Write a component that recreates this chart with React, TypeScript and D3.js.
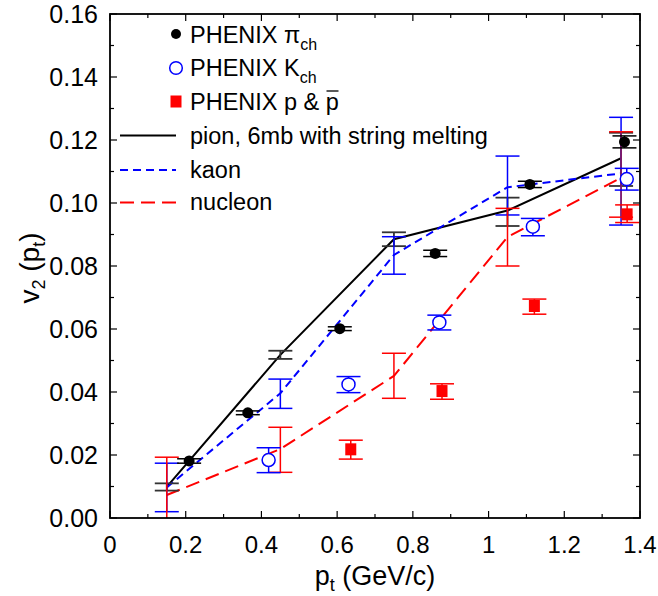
import React from "react";
import * as d3 from "d3";

// ---- data ----
const modelPt = [0.15, 0.45, 0.75, 1.05, 1.35];
const pionModel = [0.0099, 0.0518, 0.0885, 0.0976, 0.1142];
const pionModelLo = [0.0087, 0.0505, 0.0863, 0.0927, 0.1054];
const pionModelHi = [0.011, 0.0531, 0.0907, 0.1017, 0.1223];
const kaonModel = [0.0097, 0.0396, 0.0835, 0.105, 0.1094];
const kaonModelLo = [0.002, 0.0348, 0.0774, 0.0962, 0.093];
const kaonModelHi = [0.0174, 0.0441, 0.0893, 0.1149, 0.1272];
const nucModel = [0.0073, 0.0219, 0.0451, 0.0892, 0.108];
const nucModelLo = [-0.005, 0.0145, 0.038, 0.08, 0.0955];
const nucModelHi = [0.0193, 0.0288, 0.0523, 0.0983, 0.1226];

const pionPt = [0.209, 0.364, 0.607, 0.859, 1.109, 1.359];
const pionV2 = [0.0181, 0.0334, 0.0601, 0.084, 0.1059, 0.1194];
const pionErr = [0.0007, 0.0006, 0.0006, 0.001, 0.001, 0.0019];

const kaonPt = [0.419, 0.63, 0.87, 1.117, 1.365];
const kaonV2 = [0.0184, 0.0424, 0.0621, 0.0925, 0.1076];
const kaonLo = [0.0144, 0.0398, 0.0597, 0.0896, 0.1041];
const kaonHi = [0.0223, 0.0449, 0.0644, 0.0951, 0.111];

const protPt = [0.636, 0.877, 1.121, 1.366];
const protV2 = [0.0218, 0.0403, 0.0673, 0.0964];
const protLo = [0.0187, 0.0377, 0.0647, 0.0938];
const protHi = [0.0247, 0.0426, 0.0695, 0.0994];

const xTickLabels = ["0", "0.2", "0.4", "0.6", "0.8", "1", "1.2", "1.4"];
const yTickLabels = ["0.00", "0.02", "0.04", "0.06", "0.08", "0.10", "0.12", "0.14", "0.16"];

const W = 658, H = 596;
const L = 110, R = 640, T = 14, B = 518;
const FONT = "'Liberation Sans', Arial, Helvetica, sans-serif";
const BLUE = "#0000ff";
const RED = "#ff0000";
const OVERLAP = "#9c1f50";

export default function App() {
  const x = d3.scaleLinear().domain([0, 1.4]).range([L, R]);
  const y = d3.scaleLinear().domain([0, 0.16]).range([B, T]);
  const line = d3
    .line<[number, number]>()
    .x((d) => x(d[0]))
    .y((d) => y(d[1]));
  const cap = 12;

  const xMinor = d3.range(0, 1.4001, 0.1);
  const yMinor = d3.range(0, 0.16001, 0.01);

  const errBar = (
    px: number,
    lo: number,
    hi: number,
    color: string,
    key: string,
    sw = 1.5,
    vColor?: string
  ) => (
    <g key={key} stroke={color} strokeWidth={sw} fill="none">
      <line x1={x(px)} x2={x(px)} y1={y(lo)} y2={y(hi)} stroke={vColor || color} />
      <line x1={x(px) - cap} x2={x(px) + cap} y1={y(lo)} y2={y(lo)} />
      <line x1={x(px) - cap} x2={x(px) + cap} y1={y(hi)} y2={y(hi)} />
    </g>
  );

  const legendRows = [
    { y: 34, kind: "dot" },
    { y: 68, kind: "circle" },
    { y: 101.5, kind: "square" },
    { y: 135.5, kind: "solid" },
    { y: 170, kind: "kaon" },
    { y: 202.5, kind: "nuc" },
  ];

  return (
    <svg width={W} height={H} style={{ position: "absolute", left: 0, top: 0, background: "#fff" }} fontFamily={FONT}>
      <defs>
        <clipPath id="plotclip">
          <rect x={L} y={T} width={R - L} height={B - T} />
        </clipPath>
      </defs>
      <rect x={0} y={0} width={W} height={H} fill="#fff" />

      {/* ticks */}
      <g stroke="#000" strokeWidth={1.2}>
        {xMinor.map((v, i) => {
          const len = i % 2 === 0 ? 7 : 4;
          return (
            <g key={"xt" + i}>
              <line x1={x(v)} x2={x(v)} y1={B} y2={B - len} />
              <line x1={x(v)} x2={x(v)} y1={T} y2={T + len} />
            </g>
          );
        })}
        {yMinor.map((v, i) => {
          const len = i % 2 === 0 ? 7 : 4;
          return (
            <g key={"yt" + i}>
              <line x1={L} x2={L + len} y1={y(v)} y2={y(v)} />
              <line x1={R} x2={R - len} y1={y(v)} y2={y(v)} />
            </g>
          );
        })}
      </g>

      {/* model curves */}
      <g clipPath="url(#plotclip)" fill="none">
        <path d={line(modelPt.map((p, i) => [p, pionModel[i]]) as any) || ""} stroke="#000" strokeWidth={2} />
        <path d={line(modelPt.map((p, i) => [p, kaonModel[i]]) as any) || ""} stroke={BLUE} strokeWidth={2} strokeDasharray="8,5" />
        <path d={line(modelPt.map((p, i) => [p, nucModel[i]]) as any) || ""} stroke={RED} strokeWidth={2} strokeDasharray="14,7" />
        {modelPt.map((p, i) => errBar(p, pionModelLo[i], pionModelHi[i], "#333", "pm" + i, 1.8))}
        {modelPt.map((p, i) => errBar(p, kaonModelLo[i], kaonModelHi[i], BLUE, "km" + i))}
        {modelPt.map((p, i) =>
          errBar(p, nucModelLo[i], nucModelHi[i], RED, "nm" + i, 1.5, i === modelPt.length - 1 ? OVERLAP : undefined)
        )}
      </g>

      {/* data */}
      {pionPt.map((p, i) => errBar(p, pionV2[i] - pionErr[i], pionV2[i] + pionErr[i], "#000", "pe" + i, 1.5))}
      {pionPt.map((p, i) => (
        <circle key={"pd" + i} cx={x(p)} cy={y(pionV2[i])} r={5.5} fill="#000" />
      ))}
      {kaonPt.map((p, i) => errBar(p, kaonLo[i], kaonHi[i], BLUE, "ke" + i, 1.5))}
      {kaonPt.map((p, i) => (
        <circle key={"kd" + i} cx={x(p)} cy={y(kaonV2[i])} r={6.5} fill="#fff" stroke={BLUE} strokeWidth={1.5} />
      ))}
      {protPt.map((p, i) => errBar(p, protLo[i], protHi[i], RED, "re" + i, 1.5))}
      {protPt.map((p, i) => (
        <rect key={"rd" + i} x={x(p) - 5.5} y={y(protV2[i]) - 6} width={11} height={12} fill={RED} />
      ))}

      {/* frame */}
      <rect x={L} y={T} width={R - L} height={B - T} fill="none" stroke="#000" strokeWidth={1.8} />

      {/* tick labels */}
      <g fontSize={24} fill="#000">
        {xTickLabels.map((t, i) => (
          <text key={"xl" + i} x={x(i * 0.2)} y={553} textAnchor="middle">{t}</text>
        ))}
        {yTickLabels.map((t, i) => (
          <text key={"yl" + i} x={98} y={y(i * 0.02) + 8.5} textAnchor="end" fontSize={25}>{t}</text>
        ))}
      </g>

      {/* axis titles */}
      <text x={375} y={585} textAnchor="middle" fontSize={27}>
        p<tspan fontSize={18} dy={6}>t</tspan>
        <tspan dy={-6}> (GeV/c)</tspan>
      </text>
      <text transform={`translate(39,268) rotate(-90)`} textAnchor="middle" fontSize={28}>
        v<tspan fontSize={18} dy={6}>2</tspan>
        <tspan dy={-6}> (p</tspan>
        <tspan fontSize={18} dy={6}>t</tspan>
        <tspan dy={-6}>)</tspan>
      </text>

      {/* legend */}
      <g>
        {legendRows.map((r, i) => {
          if (r.kind === "dot") return <circle key={i} cx={176} cy={r.y} r={5} fill="#000" />;
          if (r.kind === "circle")
            return <circle key={i} cx={176} cy={r.y} r={6.3} fill="#fff" stroke={BLUE} strokeWidth={1.5} />;
          if (r.kind === "square") return <rect key={i} x={170.5} y={r.y - 6} width={11} height={12} fill={RED} />;
          if (r.kind === "solid") return <line key={i} x1={120} x2={176} y1={r.y} y2={r.y} stroke="#000" strokeWidth={2} />;
          if (r.kind === "kaon")
            return <line key={i} x1={120} x2={176} y1={r.y} y2={r.y} stroke={BLUE} strokeWidth={2} strokeDasharray="8,5" />;
          return <line key={i} x1={120} x2={176} y1={r.y} y2={r.y} stroke={RED} strokeWidth={2} strokeDasharray="14,7" />;
        })}
        <g fontSize={23.5} fill="#000">
          <text x={190} y={43}>
            PHENIX π<tspan fontSize={16} dy={7}>ch</tspan>
          </text>
          <text x={190} y={76}>
            PHENIX K<tspan fontSize={16} dy={7}>ch</tspan>
          </text>
          <text x={190} y={110}>PHENIX p &amp; p</text>
          <text x={190} y={144}>pion, 6mb with string melting</text>
          <text x={190} y={178}>kaon</text>
          <text x={190} y={210}>nucleon</text>
        </g>
        <line x1={326.5} x2={338.5} y1={91} y2={91} stroke="#000" strokeWidth={1.3} />
      </g>
    </svg>
  );
}
